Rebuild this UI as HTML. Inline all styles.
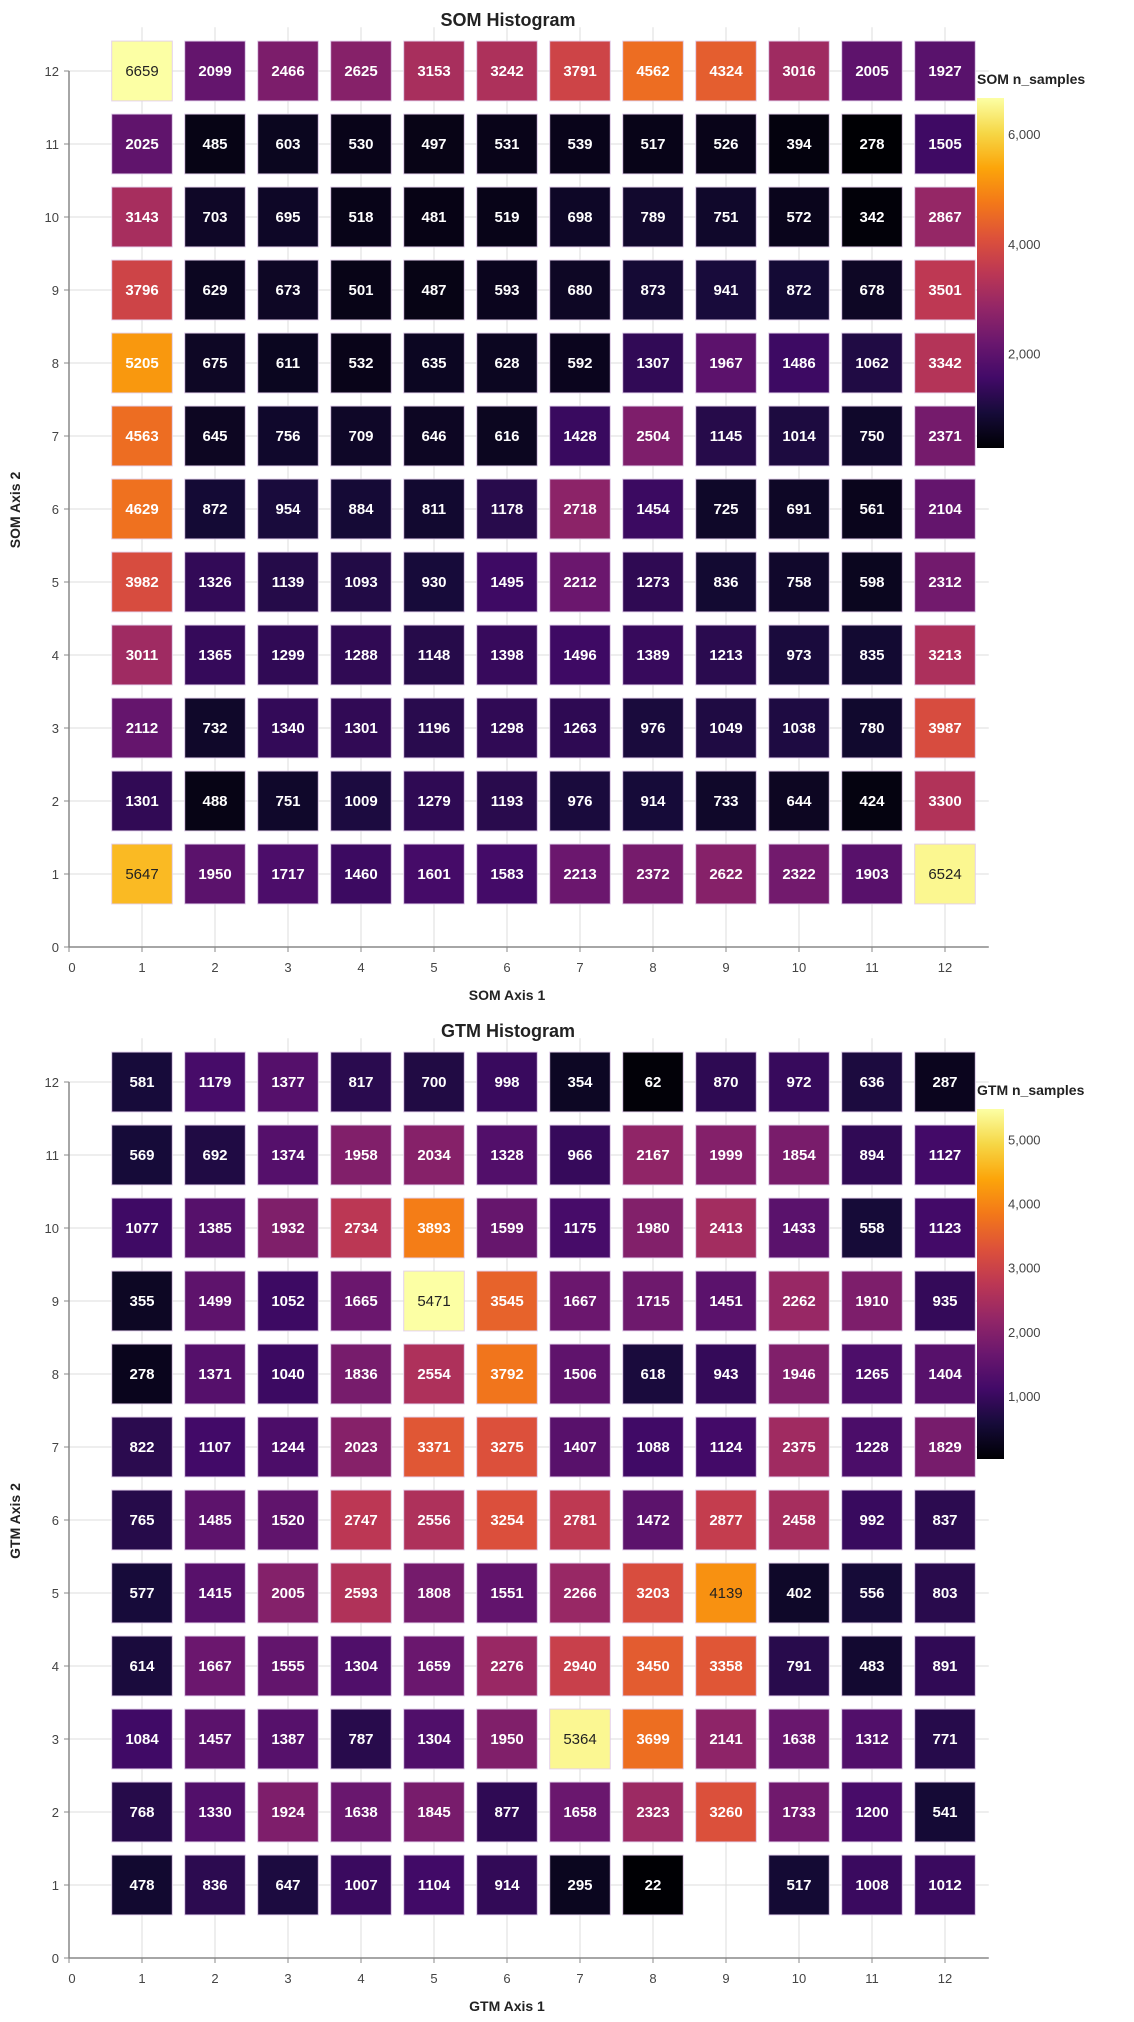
<!DOCTYPE html>
<html><head><meta charset="utf-8"><style>
html,body{margin:0;padding:0;background:#fff;}
svg{display:block;font-family:"Liberation Sans",Arial,sans-serif;}
</style></head><body>
<svg id="root" width="1134" height="2022" viewBox="0 0 1134 2022">
<defs>
<linearGradient id="inferno" x1="0" y1="1" x2="0" y2="0">
<stop offset="0" stop-color="#000004"/><stop offset="0.1" stop-color="#160b39"/><stop offset="0.2" stop-color="#420a68"/><stop offset="0.3" stop-color="#6a176e"/><stop offset="0.4" stop-color="#932667"/><stop offset="0.5" stop-color="#bc3754"/><stop offset="0.6" stop-color="#dd513a"/><stop offset="0.7" stop-color="#f37819"/><stop offset="0.8" stop-color="#fca50a"/><stop offset="0.9" stop-color="#f6d746"/><stop offset="1" stop-color="#fcffa4"/>
</linearGradient>
</defs>
</svg>
<script>
// Data: rows from y=12 (top) down to y=1
const gridAxis = [1,2,3,4,5,6,7,8,9,10,11,12];
const axisTicks = [0,1,2,3,4,5,6,7,8,9,10,11,12];
const somValues = [
[6659,2099,2466,2625,3153,3242,3791,4562,4324,3016,2005,1927],
[2025,485,603,530,497,531,539,517,526,394,278,1505],
[3143,703,695,518,481,519,698,789,751,572,342,2867],
[3796,629,673,501,487,593,680,873,941,872,678,3501],
[5205,675,611,532,635,628,592,1307,1967,1486,1062,3342],
[4563,645,756,709,646,616,1428,2504,1145,1014,750,2371],
[4629,872,954,884,811,1178,2718,1454,725,691,561,2104],
[3982,1326,1139,1093,930,1495,2212,1273,836,758,598,2312],
[3011,1365,1299,1288,1148,1398,1496,1389,1213,973,835,3213],
[2112,732,1340,1301,1196,1298,1263,976,1049,1038,780,3987],
[1301,488,751,1009,1279,1193,976,914,733,644,424,3300],
[5647,1950,1717,1460,1601,1583,2213,2372,2622,2322,1903,6524]
];
const gtmValues = [
[581,1179,1377,817,700,998,354,62,870,972,636,287],
[569,692,1374,1958,2034,1328,966,2167,1999,1854,894,1127],
[1077,1385,1932,2734,3893,1599,1175,1980,2413,1433,558,1123],
[355,1499,1052,1665,5471,3545,1667,1715,1451,2262,1910,935],
[278,1371,1040,1836,2554,3792,1506,618,943,1946,1265,1404],
[822,1107,1244,2023,3371,3275,1407,1088,1124,2375,1228,1829],
[765,1485,1520,2747,2556,3254,2781,1472,2877,2458,992,837],
[577,1415,2005,2593,1808,1551,2266,3203,4139,402,556,803],
[614,1667,1555,1304,1659,2276,2940,3450,3358,791,483,891],
[1084,1457,1387,787,1304,1950,5364,3699,2141,1638,1312,771],
[768,1330,1924,1638,1845,877,1658,2323,3260,1733,1200,541],
[478,836,647,1007,1104,914,295,22,null,517,1008,1012]
];
const somColorTicks = [2000,4000,6000];
const gtmColorTicks = [1000,2000,3000,4000,5000];

const NS='http://www.w3.org/2000/svg';
const root=document.getElementById('root');
const stops=[[0,0,0,4],[.1,22,11,57],[.2,66,10,104],[.3,106,23,110],[.4,147,38,103],[.5,188,55,84],[.6,221,81,58],[.7,243,120,25],[.8,252,165,10],[.9,246,215,70],[1,252,255,164]];
function inferno(t){t=Math.max(0,Math.min(1,t));for(let i=1;i<stops.length;i++){if(t<=stops[i][0]){const a=stops[i-1],b=stops[i];const f=(t-a[0])/(b[0]-a[0]);return 'rgb('+[1,2,3].map(k=>Math.round(a[k]+(b[k]-a[k])*f)).join(',')+')';}}return 'rgb(252,255,164)';}
function mk(tag,attrs,parent){const e=document.createElementNS(NS,tag);for(const k in attrs)e.setAttribute(k,attrs[k]);(parent||root).appendChild(e);return e;}

function drawChart(values,colorTicks,off,title,prefix,darkAbove){
  const g=mk('g',{});
  
  
  const x0=69,unit=73.0,yBase=947+off;
  const X=v=>x0+v*unit, Y=v=>yBase-v*unit;
  const flat=values.flat().filter(v=>v!==null);
  const vmin=Math.min(...flat),vmax=Math.max(...flat);
  for(const v of gridAxis){
    const gl=mk('line',{x1:X(v),x2:X(v),y1:Y(0),y2:Y(12.6),stroke:'#ddd','stroke-width':1},g);
    
    
    const hl=mk('line',{x1:X(0),x2:X(12.6),y1:Y(v),y2:Y(v),stroke:'#ddd','stroke-width':1},g);
    
    
  }
  const cw=0.83*unit,ch=0.82*unit;
  values.forEach((row,ri)=>{
    const yv=12-ri;
    row.forEach((v,ci)=>{
      if(v===null)return;
      const xv=gridAxis[ci];
      const r=mk('rect',{x:X(xv)-cw/2,y:Y(yv)-ch/2,width:cw,height:ch,fill:inferno((v-vmin)/(vmax-vmin)),stroke:'rgba(225,205,235,0.9)','stroke-width':1},g);
      
      
      const t=mk('text',{x:X(xv),y:Y(yv)+5,'text-anchor':'middle','font-size':15,'font-weight':v>darkAbove?'normal':'bold',fill:v>darkAbove?'#222':'#fff'},g);
      t.textContent=v;
      
      
    });
  });
  const ax=mk('line',{x1:X(0),x2:X(12.6),y1:yBase,y2:yBase,stroke:'#888','stroke-width':1.5},g);
  
  
  const ay=mk('line',{x1:x0,x2:x0,y1:yBase,y2:Y(12),stroke:'#888','stroke-width':1.5},g);
  
  
  for(const v of axisTicks){
    mk('line',{x1:X(v),x2:X(v),y1:yBase,y2:yBase+5,stroke:'#888'},g);
    const tx=mk('text',{x:X(v)+(v===0?3:0),y:yBase+25,'text-anchor':'middle','font-size':13,fill:'#444'},g);
    tx.textContent=v;
    
    
    mk('line',{x1:x0-5,x2:x0,y1:Y(v),y2:Y(v),stroke:'#888'},g);
    const ty=mk('text',{x:x0-10,y:Y(v)+5,'text-anchor':'end','font-size':13,fill:'#444'},g);
    ty.textContent=v;
    
    
  }
  const tt=mk('text',{x:508,y:26+off,'text-anchor':'middle','font-size':18,'font-weight':'bold',fill:'#222'},g);
  tt.textContent=title;
  
  
  const xt=mk('text',{x:507,y:yBase+53,'text-anchor':'middle','font-size':14,'font-weight':'bold',fill:'#222'},g);
  xt.textContent=prefix+' Axis 1';
  
  
  const yt=mk('text',{x:0,y:0,'text-anchor':'middle','font-size':14,'font-weight':'bold',fill:'#222',transform:'translate(20,'+(510+off)+') rotate(-90)'},g);
  yt.textContent=prefix+' Axis 2';
  
  
  const cbTop=98+off,cbBot=448+off,cbX=977,cbW=27;
  const cb=mk('rect',{x:cbX,y:cbTop,width:cbW,height:cbBot-cbTop,fill:'url(#inferno)'},g);
  
  
  const ct=mk('text',{x:cbX,y:cbTop-14,'font-size':14,'font-weight':'bold',fill:'#222'},g);
  ct.textContent=prefix+' n_samples';
  
  
  const CY=v=>cbBot-(v-vmin)/(vmax-vmin)*(cbBot-cbTop);
  for(const v of colorTicks){
    const lt=mk('text',{x:cbX+31,y:CY(v)+5,'font-size':13,fill:'#444'},g);
    lt.textContent=v.toLocaleString('en-US');
    
    
  }
}
drawChart(somValues,somColorTicks,0,'SOM Histogram','SOM',5400);
drawChart(gtmValues,gtmColorTicks,1011,'GTM Histogram','GTM',4000);
</script>
</body></html>
